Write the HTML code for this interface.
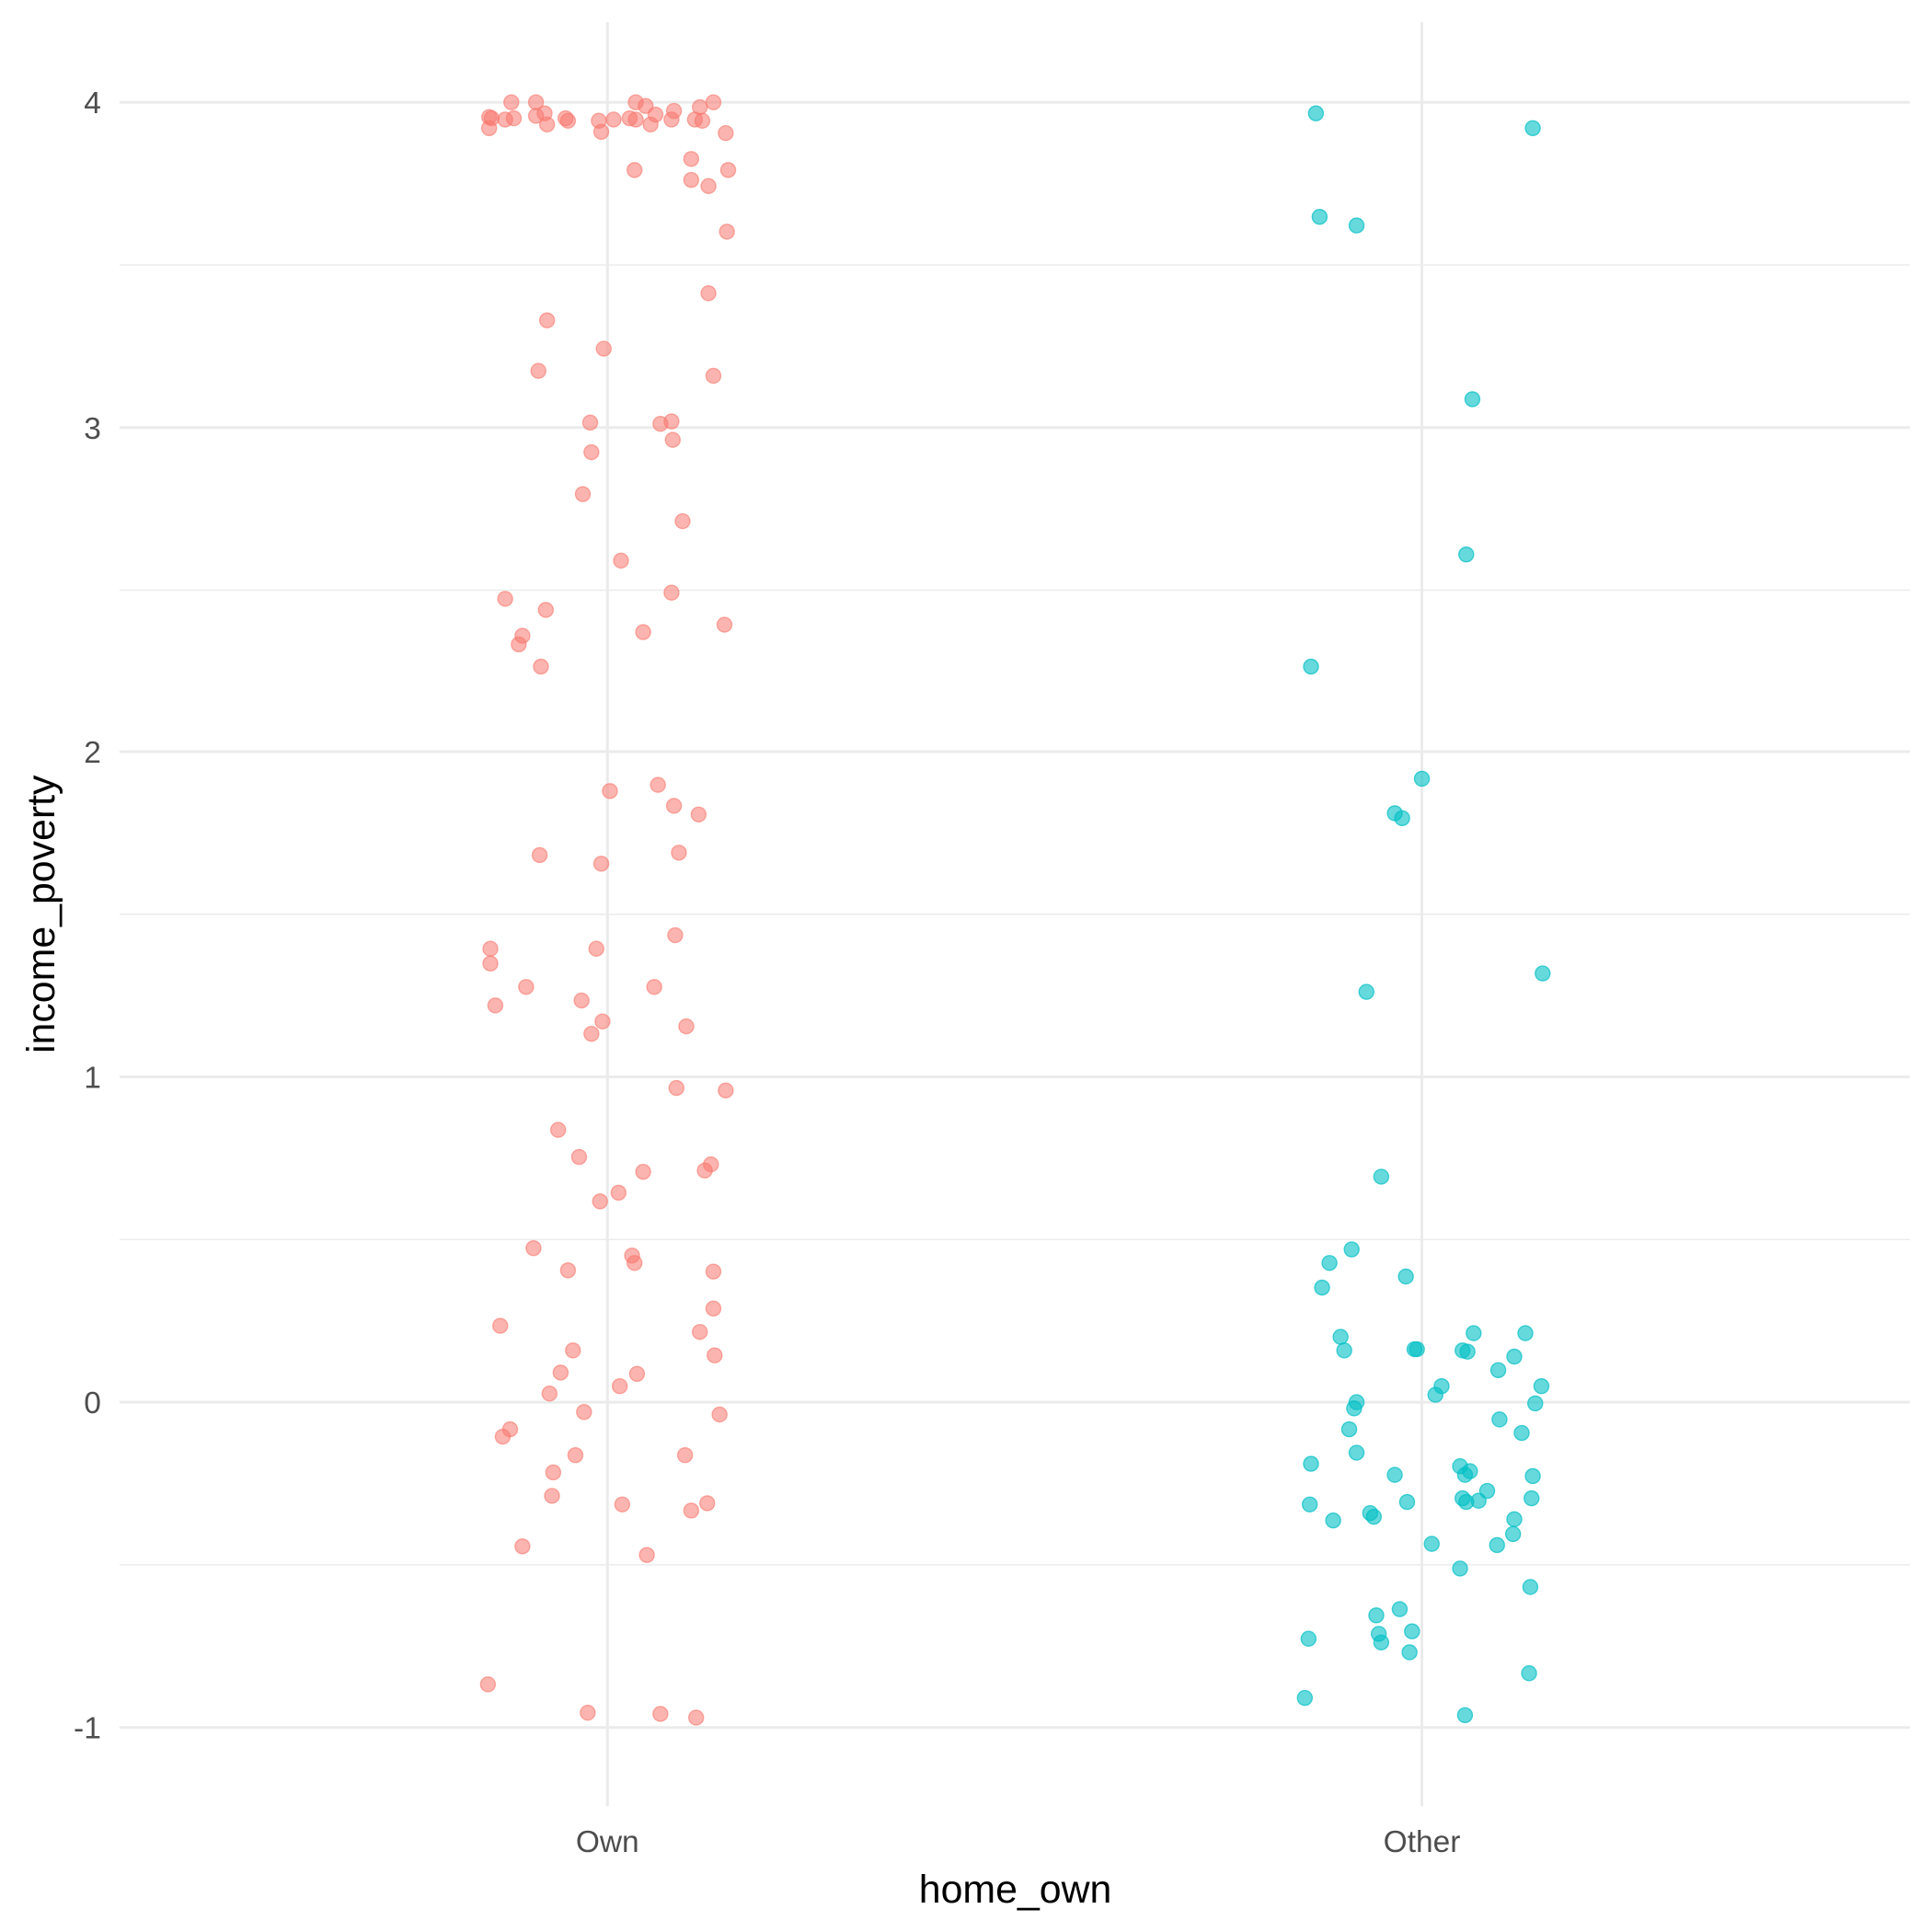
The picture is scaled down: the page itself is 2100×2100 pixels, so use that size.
<!DOCTYPE html>
<html><head><meta charset="utf-8"><style>html,body{margin:0;padding:0;background:#fff}svg{display:block}</style></head><body>
<svg width="2100" height="2100" viewBox="0 0 1568 1568" xmlns="http://www.w3.org/2000/svg" font-family="Liberation Sans, sans-serif">
<rect width="1568" height="1568" fill="#fff"/>
<g stroke="#EBEBEB" stroke-width="1.1">
<line x1="97" x2="1550" y1="215" y2="215"/><line x1="97" x2="1550" y1="479" y2="479"/><line x1="97" x2="1550" y1="742" y2="742"/><line x1="97" x2="1550" y1="1006" y2="1006"/><line x1="97" x2="1550" y1="1270" y2="1270"/>
</g>
<g stroke="#EBEBEB" stroke-width="2.2">
<line x1="97" x2="1550" y1="83" y2="83"/><line x1="97" x2="1550" y1="347" y2="347"/><line x1="97" x2="1550" y1="610" y2="610"/><line x1="97" x2="1550" y1="874" y2="874"/><line x1="97" x2="1550" y1="1138" y2="1138"/><line x1="97" x2="1550" y1="1402" y2="1402"/>
<line x1="493" x2="493" y1="18" y2="1466"/><line x1="1154" x2="1154" y1="18" y2="1466"/>
</g>
<g fill="#4D4D4D" font-size="25" text-anchor="end">
<text x="82" y="92">4</text><text x="82" y="356">3</text><text x="82" y="619">2</text><text x="82" y="883">1</text><text x="82" y="1147">0</text><text x="82" y="1411">-1</text>
</g>
<g fill="#4D4D4D" font-size="25" text-anchor="middle">
<text x="493" y="1503">Own</text><text x="1154" y="1503">Other</text>
</g>
<text x="824" y="1544" font-size="32" text-anchor="middle" fill="#000">home_own</text>
<text transform="translate(44,742) rotate(-90)" font-size="32" text-anchor="middle" fill="#000">income_poverty</text>
<g fill="#F8766D" fill-opacity="0.55" stroke="#F8766D" stroke-opacity="0.6" stroke-width="1">
<circle cx="397" cy="95" r="6"/><circle cx="399" cy="96" r="6"/><circle cx="410" cy="97" r="6"/><circle cx="415" cy="83" r="6"/><circle cx="417" cy="96" r="6"/><circle cx="397" cy="104" r="6"/><circle cx="435" cy="83" r="6"/><circle cx="435" cy="94" r="6"/><circle cx="442" cy="92" r="6"/><circle cx="444" cy="101" r="6"/><circle cx="459" cy="96" r="6"/><circle cx="461" cy="98" r="6"/><circle cx="486" cy="98" r="6"/><circle cx="488" cy="107" r="6"/><circle cx="498" cy="97" r="6"/><circle cx="511" cy="96" r="6"/><circle cx="516" cy="83" r="6"/><circle cx="516" cy="97" r="6"/><circle cx="524" cy="86" r="6"/><circle cx="528" cy="101" r="6"/><circle cx="532" cy="93" r="6"/><circle cx="545" cy="97" r="6"/><circle cx="547" cy="90" r="6"/><circle cx="564" cy="97" r="6"/><circle cx="570" cy="98" r="6"/><circle cx="568" cy="87" r="6"/><circle cx="579" cy="83" r="6"/><circle cx="589" cy="108" r="6"/><circle cx="515" cy="138" r="6"/><circle cx="561" cy="129" r="6"/><circle cx="561" cy="146" r="6"/><circle cx="575" cy="151" r="6"/><circle cx="591" cy="138" r="6"/><circle cx="590" cy="188" r="6"/><circle cx="575" cy="238" r="6"/><circle cx="444" cy="260" r="6"/><circle cx="490" cy="283" r="6"/><circle cx="437" cy="301" r="6"/><circle cx="579" cy="305" r="6"/><circle cx="479" cy="343" r="6"/><circle cx="536" cy="344" r="6"/><circle cx="545" cy="342" r="6"/><circle cx="546" cy="357" r="6"/><circle cx="480" cy="367" r="6"/><circle cx="473" cy="401" r="6"/><circle cx="554" cy="423" r="6"/><circle cx="504" cy="455" r="6"/><circle cx="410" cy="486" r="6"/><circle cx="443" cy="495" r="6"/><circle cx="545" cy="481" r="6"/><circle cx="424" cy="516" r="6"/><circle cx="421" cy="523" r="6"/><circle cx="522" cy="513" r="6"/><circle cx="588" cy="507" r="6"/><circle cx="439" cy="541" r="6"/><circle cx="495" cy="642" r="6"/><circle cx="534" cy="637" r="6"/><circle cx="547" cy="654" r="6"/><circle cx="567" cy="661" r="6"/><circle cx="438" cy="694" r="6"/><circle cx="488" cy="701" r="6"/><circle cx="551" cy="692" r="6"/><circle cx="398" cy="770" r="6"/><circle cx="398" cy="782" r="6"/><circle cx="484" cy="770" r="6"/><circle cx="548" cy="759" r="6"/><circle cx="427" cy="801" r="6"/><circle cx="402" cy="816" r="6"/><circle cx="472" cy="812" r="6"/><circle cx="531" cy="801" r="6"/><circle cx="489" cy="829" r="6"/><circle cx="480" cy="839" r="6"/><circle cx="557" cy="833" r="6"/><circle cx="549" cy="883" r="6"/><circle cx="589" cy="885" r="6"/><circle cx="453" cy="917" r="6"/><circle cx="470" cy="939" r="6"/><circle cx="522" cy="951" r="6"/><circle cx="577" cy="945" r="6"/><circle cx="572" cy="950" r="6"/><circle cx="502" cy="968" r="6"/><circle cx="487" cy="975" r="6"/><circle cx="433" cy="1013" r="6"/><circle cx="461" cy="1031" r="6"/><circle cx="513" cy="1019" r="6"/><circle cx="515" cy="1025" r="6"/><circle cx="579" cy="1032" r="6"/><circle cx="406" cy="1076" r="6"/><circle cx="579" cy="1062" r="6"/><circle cx="568" cy="1081" r="6"/><circle cx="465" cy="1096" r="6"/><circle cx="580" cy="1100" r="6"/><circle cx="455" cy="1114" r="6"/><circle cx="517" cy="1115" r="6"/><circle cx="446" cy="1131" r="6"/><circle cx="503" cy="1125" r="6"/><circle cx="474" cy="1146" r="6"/><circle cx="584" cy="1148" r="6"/><circle cx="414" cy="1160" r="6"/><circle cx="408" cy="1166" r="6"/><circle cx="467" cy="1181" r="6"/><circle cx="556" cy="1181" r="6"/><circle cx="449" cy="1195" r="6"/><circle cx="448" cy="1214" r="6"/><circle cx="505" cy="1221" r="6"/><circle cx="574" cy="1220" r="6"/><circle cx="561" cy="1226" r="6"/><circle cx="424" cy="1255" r="6"/><circle cx="525" cy="1262" r="6"/><circle cx="396" cy="1367" r="6"/><circle cx="477" cy="1390" r="6"/><circle cx="536" cy="1391" r="6"/><circle cx="565" cy="1394" r="6"/>
</g>
<g fill="#00BFC4" fill-opacity="0.6" stroke="#00BFC4" stroke-opacity="0.7" stroke-width="1">
<circle cx="1068" cy="92" r="6"/><circle cx="1244" cy="104" r="6"/><circle cx="1071" cy="176" r="6"/><circle cx="1101" cy="183" r="6"/><circle cx="1195" cy="324" r="6"/><circle cx="1190" cy="450" r="6"/><circle cx="1064" cy="541" r="6"/><circle cx="1154" cy="632" r="6"/><circle cx="1132" cy="660" r="6"/><circle cx="1138" cy="664" r="6"/><circle cx="1109" cy="805" r="6"/><circle cx="1252" cy="790" r="6"/><circle cx="1121" cy="955" r="6"/><circle cx="1097" cy="1014" r="6"/><circle cx="1079" cy="1025" r="6"/><circle cx="1141" cy="1036" r="6"/><circle cx="1073" cy="1045" r="6"/><circle cx="1088" cy="1085" r="6"/><circle cx="1196" cy="1082" r="6"/><circle cx="1238" cy="1082" r="6"/><circle cx="1091" cy="1096" r="6"/><circle cx="1148" cy="1095" r="6"/><circle cx="1150" cy="1095" r="6"/><circle cx="1187" cy="1096" r="6"/><circle cx="1191" cy="1097" r="6"/><circle cx="1229" cy="1101" r="6"/><circle cx="1216" cy="1112" r="6"/><circle cx="1251" cy="1125" r="6"/><circle cx="1170" cy="1125" r="6"/><circle cx="1165" cy="1132" r="6"/><circle cx="1101" cy="1138" r="6"/><circle cx="1246" cy="1139" r="6"/><circle cx="1099" cy="1143" r="6"/><circle cx="1217" cy="1152" r="6"/><circle cx="1095" cy="1160" r="6"/><circle cx="1235" cy="1163" r="6"/><circle cx="1101" cy="1179" r="6"/><circle cx="1064" cy="1188" r="6"/><circle cx="1185" cy="1190" r="6"/><circle cx="1193" cy="1194" r="6"/><circle cx="1189" cy="1197" r="6"/><circle cx="1132" cy="1197" r="6"/><circle cx="1244" cy="1198" r="6"/><circle cx="1207" cy="1210" r="6"/><circle cx="1187" cy="1216" r="6"/><circle cx="1200" cy="1218" r="6"/><circle cx="1190" cy="1219" r="6"/><circle cx="1243" cy="1216" r="6"/><circle cx="1142" cy="1219" r="6"/><circle cx="1063" cy="1221" r="6"/><circle cx="1112" cy="1228" r="6"/><circle cx="1115" cy="1231" r="6"/><circle cx="1082" cy="1234" r="6"/><circle cx="1229" cy="1233" r="6"/><circle cx="1228" cy="1245" r="6"/><circle cx="1162" cy="1253" r="6"/><circle cx="1215" cy="1254" r="6"/><circle cx="1185" cy="1273" r="6"/><circle cx="1242" cy="1288" r="6"/><circle cx="1136" cy="1306" r="6"/><circle cx="1117" cy="1311" r="6"/><circle cx="1146" cy="1324" r="6"/><circle cx="1119" cy="1326" r="6"/><circle cx="1121" cy="1333" r="6"/><circle cx="1144" cy="1341" r="6"/><circle cx="1062" cy="1330" r="6"/><circle cx="1241" cy="1358" r="6"/><circle cx="1059" cy="1378" r="6"/><circle cx="1189" cy="1392" r="6"/>
</g>
</svg>
</body></html>
